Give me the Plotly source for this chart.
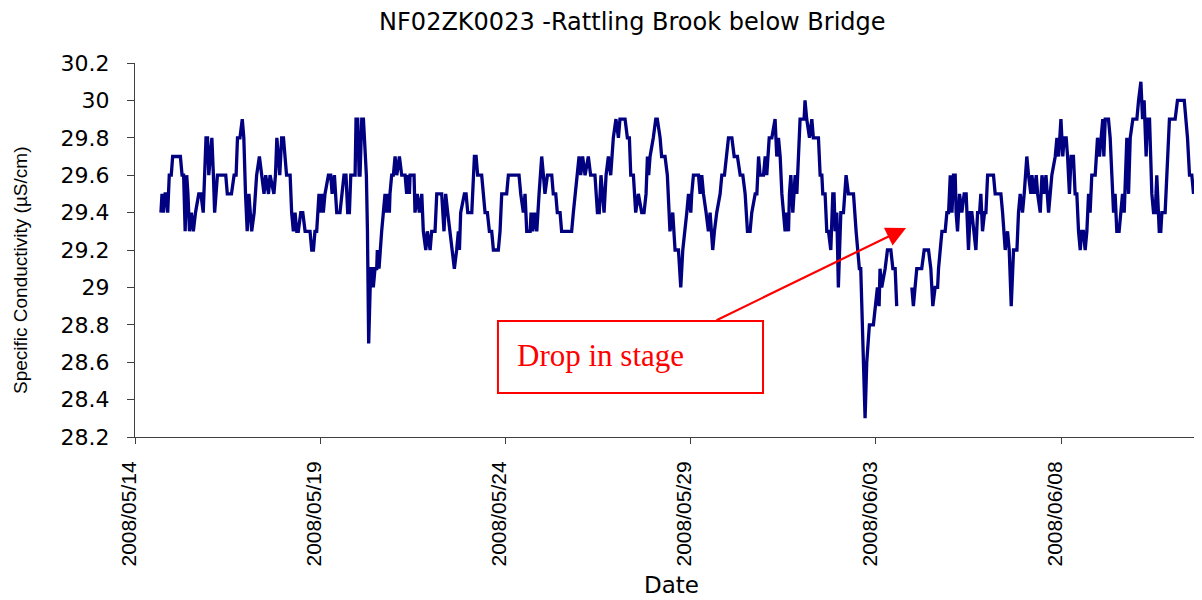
import pandas as pd
import plotly.graph_objects as go

# hours since 2008-05-14 00:00 and specific conductivity (uS/cm); None marks a data gap
hours = [
    16.8, 17.5, 18.5, 19.5, 20.5, 21.2, 22.2, 23.5, 24.4, 29.4, 30.5, 31.5, 32.5, 33.5, 34.3, 35.3,
    36.5, 37.8, 39.2, 41.3, 42.7, 44.2, 46.0, 47.0, 47.8, 49.8, 50.8, 51.6, 53.4, 58.8, 59.8, 62.5,
    64.2, 65.5, 66.4, 68.0, 69.5, 70.5, 71.6, 72.7, 73.8, 75.6, 77.2, 78.8, 80.6, 82.3, 83.6, 84.7,
    86.5, 87.5, 90.0, 91.0, 91.9, 93.8, 95.0, 96.2, 97.2, 98.2, 100.5,
    101.5, 102.6, 103.7, 104.8, 105.8, 107.4, 108.7, 110.2, 113.4, 114.5, 115.6, 116.6, 117.7, 119.2,
    120.3, 121.4, 122.0, 123.1, 125.3, 126.8, 127.7, 129.2, 130.7, 132.8, 133.9, 135.4, 136.7, 137.8,
    138.9, 139.8, 142.6, 143.2, 144.3, 145.2, 145.8, 146.9, 148.0, 149.0, 149.9, 150.6, 151.4, 152.7,
    153.6, 154.4, 155.5, 156.6, 157.0, 158.1, 158.8, 159.8, 160.9, 162.0, 162.6, 163.5, 164.8, 165.2,
    166.3, 167.4, 168.5, 169.6, 171.3, 172.8, 175.0, 176.0, 176.7, 177.8,
    178.2, 180.8, 181.4, 182.9, 184.2, 185.8, 186.8, 188.4, 189.4, 191.2, 192.2, 194.4, 195.5, 198.7,
    200.2, 201.3, 202.6, 204.1, 205.8, 206.9, 208.4, 209.5, 210.2, 211.0, 213.4, 214.5, 215.6, 218.2,
    219.9, 221.0, 222.0, 224.6, 226.8, 228.3, 229.6, 231.1, 232.2, 235.4, 236.5, 237.6, 240.8, 241.9,
    248.8, 249.9, 251.6, 252.7, 253.8, 256.0, 256.6, 257.7, 258.8, 260.3, 261.8, 263.5,
    264.6, 265.6, 267.2, 270.0, 271.0, 272.6, 273.6, 275.4, 276.4, 282.9, 284.0, 285.1, 286.2, 287.7,
    288.8, 290.0, 291.6, 293.7, 295.2, 298.0, 299.6, 300.8, 301.9, 303.9, 305.2, 306.7, 308.2, 308.8,
    309.9, 311.6, 313.2, 314.2, 317.5, 319.0, 320.3, 321.2, 322.9, 324.4, 326.1, 328.3, 329.8, 331.1,
    332.0, 332.8, 333.7, 335.8, 337.4, 338.4, 340.2, 341.2, 343.4, 344.9, 345.6, 346.6,
    348.4, 349.3, 349.9, 352.1, 353.6, 354.9, 356.4, 357.5, 358.6, 360.1, 360.7, 361.8, 365.1, 366.1,
    367.2, 368.3, 370.0, 371.5, 372.6, 374.3, 375.4, 376.9, 379.1, 380.2, 381.9, 383.0, 384.5, 386.7,
    388.2, 390.3, 392.1, 393.8, 395.3, 396.8, 398.5, 399.6, 401.8, 402.9, 404.0, 405.0, 407.2, 408.3,
    409.3, 410.9, 412.6, 414.7, 415.8, 416.9, 418.0, 419.1, 420.1, 421.2, 422.3, 423.4, 424.0, 424.9,
    426.2, 427.7, 428.8, 429.9, 430.9,
    433.5, 434.1, 435.2, 437.0, 438.5, 439.5, 442.8, 443.9, 445.0, 445.6, 447.1, 448.2, 449.3, 450.8,
    452.1, 452.9, 453.6, 454.7, 455.7, 457.3, 459.0, 460.7, 462.2, 465.5, 467.2, 469.3, 470.2, 473.0,
    474.1, 475.8, 478.4, 479.5, 481.0, 482.1, 482.7, 483.8, 486.0, 487.5, 489.7, 491.0, 492.5, 493.5,
    498.0, 503.3, 504.3, 505.4, 506.5, 509.7, 511.3, 514.1, 515.6,
    516.9, 518.4, 520.0, 520.6, 522.8, 524.9, 526.0, 527.1, 528.2, 529.3, 530.3, 531.4, 532.0, 532.9,
    534.2, 535.7, 537.2, 538.5, 540.0, 541.1, 542.2, 543.3, 544.8, 545.9, 547.2, 548.0, 549.1, 550.4,
    551.3, 552.4, 556.2, 557.3, 561.0, 562.1, 563.8, 565.3, 566.4, 567.7, 569.2, 571.4, 572.4, 573.5,
    575.0, 576.1, 577.8, 578.9, 580.4, 581.1, 582.6, 583.9, 584.8, 586.5, 587.6, 589.1, 590.2, 591.9,
    593.0, 594.0, 596.2, 597.3, 598.4, 599.9,
    601.1, 602.0, 603.3, 604.2, 605.4, 606.5, 608.0, 609.1, 610.2, 611.3, 612.4, 613.4, 614.5, 615.6,
    616.7, 617.8, 618.8, 619.9, 622.1, 623.6, 624.9, 625.8, 627.0, 627.7, 628.6, 630.7, 631.8, 632.9,
    634.0, 635.0, 636.1, 637.6, 638.9, 639.8, 640.9, 642.0, 642.6, 643.7, 644.8, 646.5, 649.1, 650.2,
    651.7, 652.8, 653.8, 655.1, 656.0, 657.3, 658.8, 659.9, 661.0, 662.0, 663.6, 664.6, 665.3, 667.4,
    668.5, 670.2, 673.9, 675.4, 679.8, 681.0, 681.9, 683.2, 684.7, 685.8, 687.5,
]

conductivity = [
    29.4, 29.5, 29.4, 29.5, 29.5, 29.4, 29.6, 29.6, 29.7, 29.7, 29.6, 29.6, 29.3, 29.6, 29.5, 29.3,
    29.4, 29.3, 29.4, 29.5, 29.5, 29.4, 29.8, 29.8, 29.6, 29.8, 29.6, 29.4, 29.6, 29.6, 29.5, 29.5,
    29.6, 29.6, 29.8, 29.8, 29.9, 29.8, 29.5, 29.3, 29.5, 29.3, 29.4, 29.6, 29.7, 29.6, 29.5, 29.6,
    29.5, 29.6, 29.5, 29.6, 29.8, 29.6, 29.8, 29.8, 29.7, 29.6, 29.6,
    29.4, 29.3, 29.4, 29.3, 29.3, 29.4, 29.4, 29.3, 29.3, 29.2, 29.2, 29.3, 29.3, 29.5,
    29.4, 29.5, 29.4, 29.5, 29.6, 29.6, 29.5, 29.6, 29.4, 29.4, 29.5, 29.6, 29.6, 29.4,
    29.4, 29.6, 29.6, 29.9, 29.9, 29.6, 29.6, 29.9, 29.9, 29.7, 29.6, 29.3, 28.7, 29.1,
    29.1, 29.0, 29.1, 29.1, 29.2, 29.1, 29.2, 29.3, 29.4, 29.5, 29.4, 29.5, 29.4, 29.5,
    29.6, 29.6, 29.7, 29.6, 29.7, 29.6, 29.6, 29.5, 29.6, 29.5,
    29.6, 29.6, 29.4, 29.5, 29.4, 29.5, 29.3, 29.2, 29.3, 29.2, 29.3, 29.3, 29.5, 29.5,
    29.3, 29.5, 29.4, 29.3, 29.2, 29.1, 29.2, 29.3, 29.2, 29.4, 29.5, 29.5, 29.4, 29.4,
    29.7, 29.7, 29.6, 29.6, 29.4, 29.4, 29.3, 29.3, 29.2, 29.2, 29.3, 29.5, 29.5, 29.6,
    29.6, 29.5, 29.4, 29.5, 29.3, 29.3, 29.4, 29.3, 29.4, 29.3, 29.5, 29.7,
    29.6, 29.5, 29.6, 29.6, 29.5, 29.5, 29.4, 29.4, 29.3, 29.3, 29.4, 29.5, 29.6, 29.7,
    29.6, 29.7, 29.6, 29.7, 29.6, 29.6, 29.4, 29.4, 29.6, 29.4, 29.6, 29.7, 29.6, 29.7,
    29.8, 29.9, 29.8, 29.9, 29.9, 29.8, 29.8, 29.6, 29.6, 29.4, 29.5, 29.4, 29.4, 29.5,
    29.7, 29.6, 29.7, 29.8, 29.9, 29.9, 29.8, 29.7, 29.7, 29.6, 29.5, 29.3,
    29.4, 29.3, 29.2, 29.2, 29.0, 29.2, 29.3, 29.4, 29.5, 29.4, 29.5, 29.6, 29.6, 29.5,
    29.6, 29.5, 29.4, 29.3, 29.4, 29.2, 29.3, 29.4, 29.5, 29.6, 29.6, 29.7, 29.8, 29.8,
    29.7, 29.7, 29.6, 29.6, 29.5, 29.3, 29.3, 29.4, 29.5, 29.5, 29.7, 29.6, 29.6, 29.7,
    29.6, 29.8, 29.8, 29.9, 29.7, 29.8, 29.7, 29.5, 29.4, 29.3, 29.4, 29.3, 29.5, 29.6,
    29.4, 29.6, 29.5, 29.7, 29.9,
    29.9, 30.0, 29.9, 29.8, 29.9, 29.8, 29.8, 29.6, 29.6, 29.5, 29.5, 29.3, 29.3, 29.2,
    29.5, 29.5, 29.3, 29.4, 29.0, 29.4, 29.4, 29.6, 29.5, 29.5, 29.3, 29.1, 29.1, 28.3,
    28.6, 28.8, 28.8, 28.9, 29.0, 28.9, 29.1, 29.0, 29.1, 29.2, 29.2, 29.1, 29.1, 28.9,
    None, 29.0, 28.9, 29.0, 29.1, 29.1, 29.2, 29.2, 29.1,
    28.9, 29.0, 29.0, 29.1, 29.3, 29.3, 29.4, 29.4, 29.6, 29.4, 29.6, 29.6, 29.4, 29.3,
    29.5, 29.4, 29.5, 29.5, 29.2, 29.4, 29.4, 29.3, 29.2, 29.4, 29.4, 29.5, 29.3, 29.4,
    29.4, 29.6, 29.6, 29.5, 29.5, 29.4, 29.2, 29.3, 29.2, 28.9, 29.2, 29.2, 29.4, 29.5,
    29.4, 29.5, 29.7, 29.6, 29.5, 29.6, 29.5, 29.6, 29.5, 29.4, 29.6, 29.5, 29.6, 29.4,
    29.5, 29.6, 29.7, 29.8, 29.7, 29.9,
    29.7, 29.8, 29.8, 29.7, 29.5, 29.7, 29.7, 29.5, 29.5, 29.3, 29.2, 29.3, 29.3, 29.2,
    29.3, 29.5, 29.4, 29.6, 29.6, 29.8, 29.7, 29.8, 29.9, 29.7, 29.9, 29.9, 29.8, 29.6,
    29.4, 29.5, 29.3, 29.3, 29.4, 29.5, 29.4, 29.6, 29.8, 29.5, 29.8, 29.9, 29.9, 30.0,
    30.1, 29.9, 30.0, 29.7, 29.9, 29.9, 29.5, 29.4, 29.4, 29.6, 29.3, 29.3, 29.4, 29.4,
    29.6, 29.9, 29.9, 30.0, 30.0, 29.9, 29.8, 29.6, 29.6, 29.5, 29.6,
]

start_date = "2008-05-14"
x_tick_dates = ["2008-05-14", "2008-05-19", "2008-05-24", "2008-05-29", "2008-06-03", "2008-06-08"]
x_tick_labels = ["2008/05/14", "2008/05/19", "2008/05/24", "2008/05/29", "2008/06/03", "2008/06/08"]
y_tick_values = [28.2, 28.4, 28.6, 28.8, 29.0, 29.2, 29.4, 29.6, 29.8, 30.0, 30.2]
y_tick_labels = ["28.2", "28.4", "28.6", "28.8", "29", "29.2", "29.4", "29.6", "29.8", "30", "30.2"]
x_end_hours = 690

t0 = pd.Timestamp(start_date)
times = [t0 + pd.Timedelta(hours=h) for h in hours]
x_end = t0 + pd.Timedelta(hours=x_end_hours)

fig = go.Figure()
fig.add_trace(go.Scatter(
    x=times, y=conductivity, mode="lines",
    line=dict(color="#000080", width=3.3),
    connectgaps=False, showlegend=False,
))

axis_color = "#404040"
# the page body adds an 8px offset, so the figure is 8px smaller than the window
fig.update_layout(
    width=1194, height=592,
    margin=dict(l=127, r=2, t=55, b=163),
    paper_bgcolor="white", plot_bgcolor="white",
    title=dict(
        text="NF02ZK0023 -Rattling Brook below Bridge",
        x=0.467, xref="paper", xanchor="center",
        y=0.977, yref="container", yanchor="middle",
        font=dict(family="DejaVu Sans", size=24, color="black"),
    ),
    xaxis=dict(
        type="date", range=[t0, x_end],
        tickmode="array", tickvals=x_tick_dates, ticktext=x_tick_labels,
        tickangle=-90, ticks="outside", ticklen=6, tickcolor=axis_color,
        showline=True, linecolor=axis_color, linewidth=1,
        showgrid=False, zeroline=False,
        tickfont=dict(family="Liberation Sans", size=21, color="black"),
        ticklabelstandoff=9, ticklabelshift=-6,
    ),
    yaxis=dict(
        range=[28.2, 30.2],
        tickmode="array", tickvals=y_tick_values, ticktext=y_tick_labels,
        ticks="outside", ticklen=7, tickcolor=axis_color,
        showline=True, linecolor=axis_color, linewidth=1,
        showgrid=False, zeroline=False,
        tickfont=dict(family="DejaVu Sans", size=22, color="black"),
        ticklabelstandoff=13,
    ),
)

# axis titles
fig.add_annotation(
    text="Specific Conductivity (µS/cm)", textangle=-90,
    xref="paper", yref="paper", x=-0.107, y=0.444,
    xanchor="center", yanchor="middle", showarrow=False,
    font=dict(family="Liberation Sans", size=19, color="black"),
)
fig.add_annotation(
    text="Date", xref="paper", yref="paper", x=0.504, y=-0.396,
    xanchor="center", yanchor="middle", showarrow=False,
    font=dict(family="DejaVu Sans", size=23, color="black"),
)

# callout box
fig.add_shape(
    type="rect", xref="paper", yref="paper",
    x0=0.3408, x1=0.5897, y0=0.1176, y1=0.3102,
    line=dict(color="red", width=2), fillcolor="white", layer="above",
)
fig.add_annotation(
    text="Drop in stage", xref="paper", yref="paper", x=0.3565, y=0.2166,
    xanchor="left", yanchor="middle", showarrow=False,
    font=dict(family="Liberation Serif", size=31, color="red"),
)
fig.add_annotation(
    text="", xref="paper", yref="paper", x=0.724, y=0.559,
    showarrow=True, ax=-191, ay=93, axref="pixel", ayref="pixel",
    arrowhead=2, arrowsize=1.8, arrowwidth=2.2, arrowcolor="red",
    standoff=0,
)

fig.write_html("out.html")
